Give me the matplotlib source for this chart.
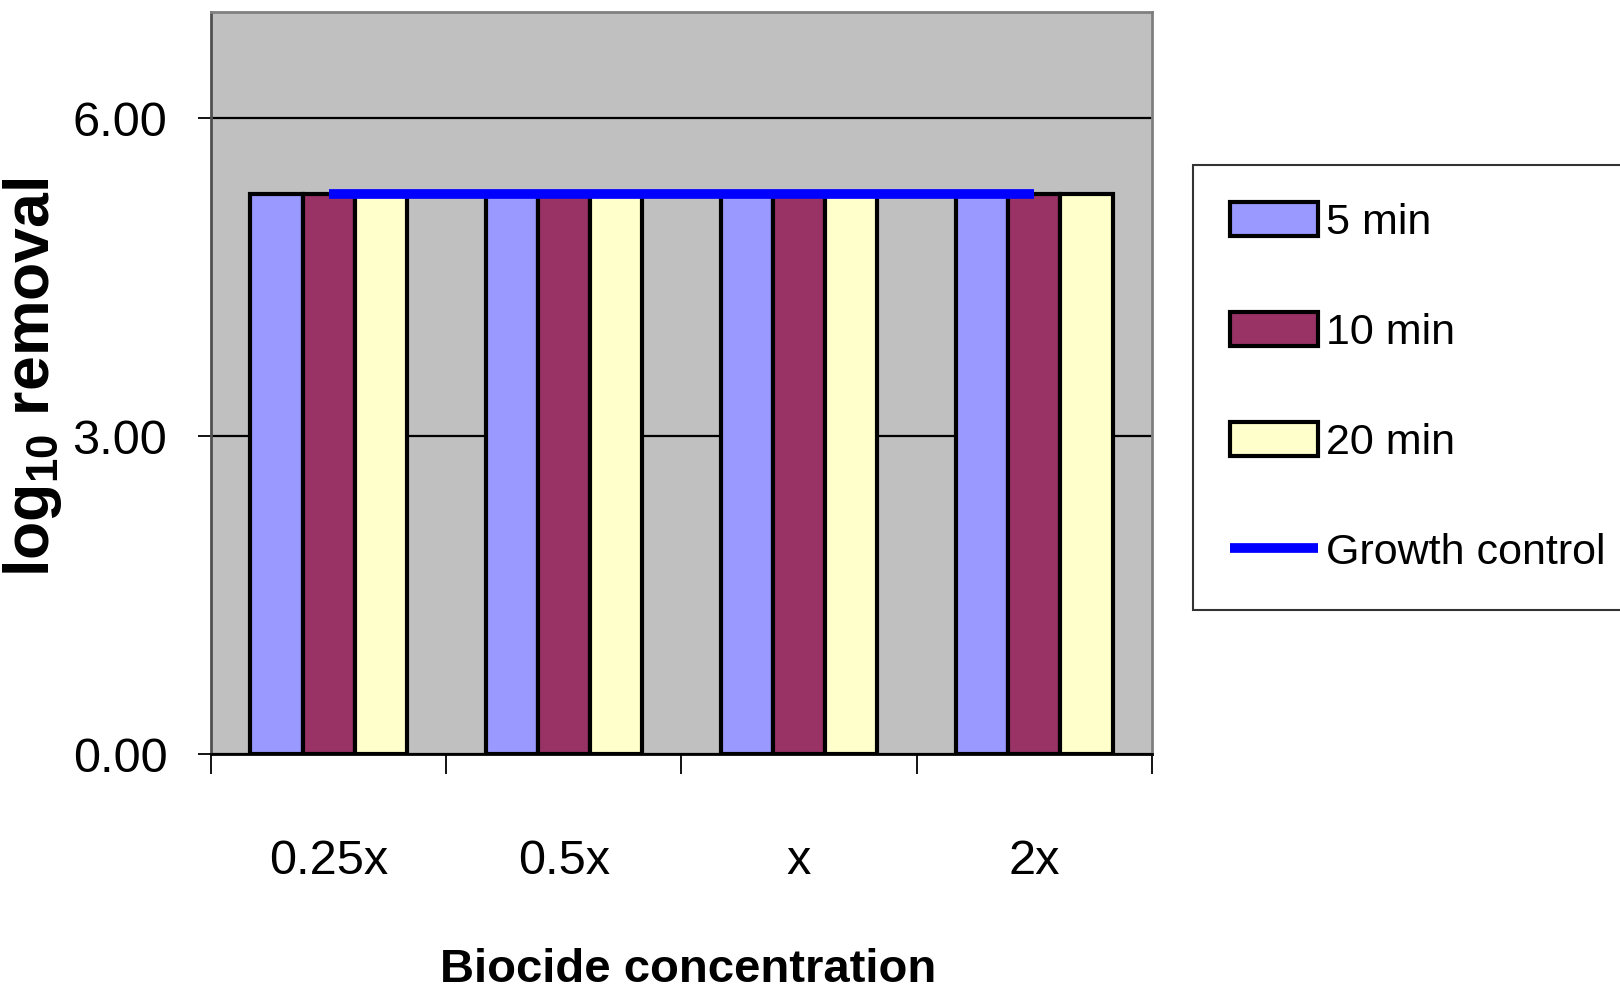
import numpy as np
import matplotlib
matplotlib.use("Agg")
import matplotlib.pyplot as plt
from matplotlib.ticker import FixedLocator, NullFormatter

# data
categories = ["0.25x", "0.5x", "x", "2x"]
series_names = ["5 min", "10 min", "20 min"]
removal_5 = [5.28, 5.28, 5.28, 5.28]
removal_10 = [5.28, 5.28, 5.28, 5.28]
removal_20 = [5.28, 5.28, 5.28, 5.28]
growth_control = [5.28, 5.28, 5.28, 5.28]
yticks = [0, 3, 6]

colors = ["#9999FF", "#993366", "#FFFFCC"]

plt.rcParams["mathtext.fontset"] = "custom"
plt.rcParams["mathtext.rm"] = "Liberation Sans"
plt.rcParams["mathtext.default"] = "regular"

fam = ["Liberation Sans", "DejaVu Sans"]

fig = plt.figure(figsize=(16.2, 9.94), dpi=100)
ax = fig.add_axes([211 / 1620, 1 - 754 / 994, 941 / 1620, 742 / 994])
ax.set_facecolor("#C0C0C0")

x = np.arange(len(categories))
w = 0.222
bars = []
for k, vals in enumerate([removal_5, removal_10, removal_20]):
    b = ax.bar(x + (k - 1) * w, vals, width=w, color=colors[k], edgecolor="black",
               linewidth=3, label=series_names[k], zorder=3)
    bars.append(b)
line, = ax.plot(x, growth_control, color="#0000FF", linewidth=7,
                solid_capstyle="butt", label="Growth control", zorder=4)

ax.set_xlim(-0.5, 3.5)
ax.set_ylim(0, 7)
ax.set_yticks(yticks)
ax.set_yticklabels(["%.2f" % v for v in yticks], family=fam, fontsize=35)
ax.yaxis.grid(True, color="black", linewidth=1.6, zorder=0)
ax.set_axisbelow(True)

ax.set_xticks(x)
ax.set_xticklabels(categories, family=fam, fontsize=35)
ax.xaxis.set_minor_locator(FixedLocator(np.arange(-0.5, 4, 1)))
ax.xaxis.set_minor_formatter(NullFormatter())
ax.tick_params(axis="x", which="major", length=0, pad=61)
ax.tick_params(axis="x", which="minor", length=14.5, width=1.3, direction="out")
ax.tick_params(axis="y", length=9.5, width=1.3, direction="out", pad=22)

for s in ["top", "right"]:
    ax.spines[s].set_color("#808080")
    ax.spines[s].set_linewidth(2)
ax.spines["left"].set_color("#505050")
ax.spines["left"].set_linewidth(2)
ax.spines["bottom"].set_color("black")
ax.spines["bottom"].set_linewidth(2)

ax.set_xlabel("Biocide concentration", family=fam, fontsize=34, fontweight="bold")
ax.xaxis.set_label_coords(0.507, -0.262)
ax.set_ylabel("log$_{10}$ removal", family=fam, fontsize=45, fontweight="bold",
              va="center")
ax.yaxis.set_label_coords(-0.19, 0.507)

leg = fig.legend(bars + [line], series_names + ["Growth control"], loc="upper left",
                 bbox_to_anchor=(1193 / 1620, 1 - 165 / 994), borderaxespad=0,
                 prop={"family": fam, "size": 31}, frameon=True, fancybox=False,
                 edgecolor="black", handlelength=2.05, handleheight=0.86,
                 handletextpad=0.2, labelspacing=1.6, borderpad=0.85)
leg.get_frame().set_linewidth(1.5)

fig.savefig("out.png", dpi=100)
